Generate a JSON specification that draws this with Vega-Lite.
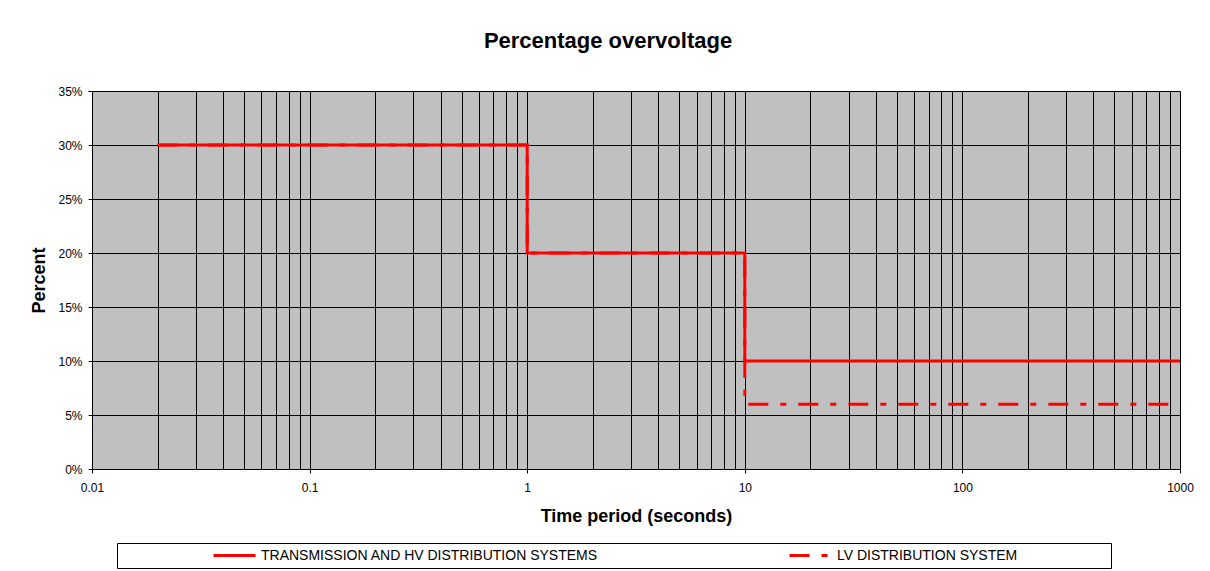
{
  "$schema": "https://vega.github.io/schema/vega-lite/v6.json",
  "width": 1088,
  "height": 378,
  "autosize": {"type": "none"},
  "padding": {"left": 92, "top": 91, "right": 30, "bottom": 102},
  "background": "white",
  "title": {"text": "Percentage overvoltage", "font": "Liberation Sans", "fontSize": 22, "fontWeight": "bold", "color": "black", "anchor": "middle", "dx": -28, "offset": 32},
  "data": {"values": [
    {"series": "TRANSMISSION AND HV DISTRIBUTION SYSTEMS", "time": 0.02, "pct": 0.30},
    {"series": "TRANSMISSION AND HV DISTRIBUTION SYSTEMS", "time": 1, "pct": 0.20},
    {"series": "TRANSMISSION AND HV DISTRIBUTION SYSTEMS", "time": 10, "pct": 0.10},
    {"series": "TRANSMISSION AND HV DISTRIBUTION SYSTEMS", "time": 1000, "pct": 0.10},
    {"series": "LV DISTRIBUTION SYSTEM", "time": 0.02, "pct": 0.30},
    {"series": "LV DISTRIBUTION SYSTEM", "time": 1, "pct": 0.20},
    {"series": "LV DISTRIBUTION SYSTEM", "time": 10, "pct": 0.06},
    {"series": "LV DISTRIBUTION SYSTEM", "time": 1000, "pct": 0.06}
  ]},
  "mark": {"type": "line", "interpolate": "step-after", "strokeWidth": 3, "clip": false},
  "encoding": {
    "x": {
      "field": "time", "type": "quantitative",
      "scale": {"type": "log", "domain": [0.01, 1000], "nice": false},
      "axis": {
        "title": "Time period (seconds)",
        "values": [0.01,0.02,0.03,0.04,0.05,0.06,0.07,0.08,0.09,0.1,0.2,0.3,0.4,0.5,0.6,0.7,0.8,0.9,1,2,3,4,5,6,7,8,9,10,20,30,40,50,60,70,80,90,100,200,300,400,500,600,700,800,900,1000],
        "format": "~g",
        "labelExpr": "abs(log(datum.value)/LN10 - round(log(datum.value)/LN10)) < 1e-6 ? datum.label : ''",
        "labelOverlap": false,
        "labelFlush": false,
        "grid": true, "gridColor": "black", "gridOpacity": 1, "gridWidth": 1,
        "domainColor": "black", "domainWidth": 1,
        "tickColor": "black", "tickSize": 4,
        "tickOpacity": {"condition": {"test": "abs(log(datum.value)/LN10 - round(log(datum.value)/LN10)) < 1e-6", "value": 1}, "value": 0},
        "labelFont": "Liberation Sans", "labelFontSize": 12, "labelColor": "black", "labelPadding": 9,
        "titleFont": "Liberation Sans", "titleFontSize": 18, "titleFontWeight": "bold", "titleColor": "black", "titlePadding": 14
      }
    },
    "y": {
      "field": "pct", "type": "quantitative",
      "scale": {"domain": [0, 0.35], "nice": false},
      "axis": {
        "title": "Percent",
        "values": [0, 0.05, 0.1, 0.15, 0.2, 0.25, 0.3, 0.35],
        "format": ".0%",
        "grid": true, "gridColor": "black", "gridOpacity": 1, "gridWidth": 1,
        "domainColor": "black", "tickColor": "black", "tickSize": 4,
        "labelFont": "Liberation Sans", "labelFontSize": 12, "labelColor": "black", "labelPadding": 6,
        "titleFont": "Liberation Sans", "titleFontSize": 18, "titleFontWeight": "bold", "titleColor": "black", "titlePadding": 9
      }
    },
    "color": {
      "field": "series", "type": "nominal",
      "scale": {"domain": ["TRANSMISSION AND HV DISTRIBUTION SYSTEMS", "LV DISTRIBUTION SYSTEM"], "range": ["#FF0000", "#FF0000"]},
      "legend": {"title": "\u00a0", "titleOrient": "left", "titleFontSize": 2, "titlePadding": 90, "orient": "none", "legendX": 25, "legendY": 452, "direction": "horizontal", "columns": 2, "columnPadding": 190, "padding": 5, "clipHeight": 15, "strokeColor": "black", "fillColor": "white", "symbolType": "stroke", "symbolSize": 1764, "symbolStrokeWidth": 3, "labelFont": "Liberation Sans", "labelFontSize": 14, "labelColor": "black", "labelOffset": 4, "labelLimit": 800, "labelExpr": "datum.label == 'LV DISTRIBUTION SYSTEM' ? datum.label + '\u00a0\u00a0\u00a0\u00a0\u00a0\u00a0\u00a0\u00a0\u00a0\u00a0\u00a0\u00a0\u00a0\u00a0\u00a0\u00a0\u00a0\u00a0\u00a0\u00a0\u2800' : datum.label"}
    },
    "strokeDash": {
      "field": "series", "type": "nominal",
      "scale": {"domain": ["TRANSMISSION AND HV DISTRIBUTION SYSTEMS", "LV DISTRIBUTION SYSTEM"], "range": [[1, 0], [20, 12, 6, 12]]},
      "legend": {"title": "\u00a0", "titleOrient": "left", "titleFontSize": 2, "titlePadding": 90, "orient": "none", "legendX": 25, "legendY": 452, "direction": "horizontal", "columns": 2, "columnPadding": 190, "padding": 5, "clipHeight": 15, "strokeColor": "black", "fillColor": "white", "symbolType": "stroke", "symbolSize": 1764, "symbolStrokeWidth": 3, "labelFont": "Liberation Sans", "labelFontSize": 14, "labelColor": "black", "labelOffset": 4, "labelLimit": 800, "labelExpr": "datum.label == 'LV DISTRIBUTION SYSTEM' ? datum.label + '\u00a0\u00a0\u00a0\u00a0\u00a0\u00a0\u00a0\u00a0\u00a0\u00a0\u00a0\u00a0\u00a0\u00a0\u00a0\u00a0\u00a0\u00a0\u00a0\u00a0\u2800' : datum.label"}
    }
  },
  "config": {
    "font": "Liberation Sans",
    "view": {"fill": "#C0C0C0", "stroke": null}
  }
}
